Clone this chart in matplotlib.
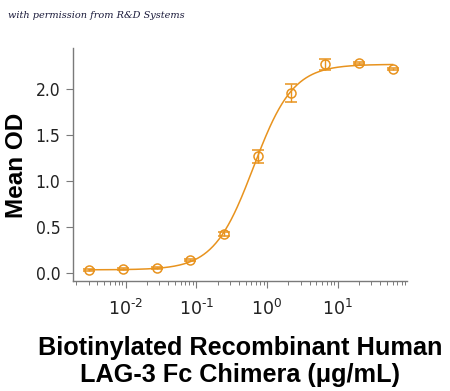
import numpy as np
import matplotlib
matplotlib.use("Agg")
import matplotlib.pyplot as plt
from matplotlib import font_manager
from matplotlib.ticker import LogLocator, FixedLocator, NullFormatter

# data (3-fold dilution series)
conc = [60, 20, 6.67, 2.22, 0.741, 0.247, 0.0823, 0.0274, 0.00914, 0.00305]
mean_od = [2.22, 2.28, 2.27, 1.96, 1.27, 0.42, 0.14, 0.05, 0.04, 0.03]
od_err = [0.01, 0.01, 0.06, 0.10, 0.07, 0.02, 0.01, 0.01, 0.01, 0.01]

# 4PL fit parameters (bottom, top, EC50, hill)
fit_bottom, fit_top, fit_ec50, fit_hill = 0.03, 2.27, 0.645, 1.55

y_ticks = [0.0, 0.5, 1.0, 1.5, 2.0]
x_major = [1e-2, 1e-1, 1e0, 1e1]

col = "#E8931E"

# look for an upright condensed face for the tick labels
cond = None
for f in font_manager.fontManager.ttflist:
    if f.style != "normal" or f.weight not in (400, "normal", "regular"):
        continue
    if "Narrow" in f.name or "Condensed" in f.name or f.stretch == "condensed":
        cond = f
        break
if cond:
    tname = cond.name
    tick_fp = font_manager.FontProperties(fname=cond.fname, size=12.5)
else:
    tname = "DejaVu Sans"
    tick_fp = font_manager.FontProperties(family="DejaVu Sans", size=11.5)

plt.rcParams["mathtext.fontset"] = "custom"
plt.rcParams["mathtext.rm"] = tname
plt.rcParams["mathtext.it"] = tname

fig = plt.figure(figsize=(4.5, 3.91), dpi=100)
ax = fig.add_axes([0.162, 0.281, 0.742, 0.596])

xs = np.logspace(np.log10(min(conc)), np.log10(max(conc)), 300)
ys = fit_bottom + (fit_top - fit_bottom) / (1 + (fit_ec50 / xs) ** fit_hill)
ax.plot(xs, ys, color=col, lw=1.1)
ax.errorbar(conc, mean_od, yerr=od_err, fmt="o", mfc="none", mec=col,
            ecolor=col, ms=6.5, mew=1.1, elinewidth=1.0, capsize=4, capthick=1.0)

ax.set_xscale("log")
ax.set_xlim(1.8e-3, 95)
ax.set_ylim(-0.093, 2.447)
ax.set_yticks(y_ticks)
ax.set_yticklabels([f"{v:.1f}" for v in y_ticks])
ax.xaxis.set_major_locator(FixedLocator(x_major))
# hyphen instead of the wide math minus, as in the reference
ax.set_xticklabels([r"$10^{\text{%s}}$" % str(int(np.log10(v))).replace("-", "-")
                    for v in x_major])
for lab in ax.get_yticklabels():
    lab.set_fontproperties(tick_fp)
for lab in ax.get_xticklabels():
    lab.set_fontsize(12.5)
ax.xaxis.set_minor_locator(LogLocator(base=10, subs=np.arange(2, 10)))
ax.xaxis.set_minor_formatter(NullFormatter())

for s in ["top", "right"]:
    ax.spines[s].set_visible(False)
for s in ["left", "bottom"]:
    ax.spines[s].set_color("#7a7a7a")
    ax.spines[s].set_linewidth(1.0)
ax.tick_params(axis="both", which="major", direction="out", length=5, width=0.8,
               color="#7a7a7a", labelcolor="#222222", pad=4)
ax.tick_params(axis="x", which="minor", direction="out", length=3, width=0.7, color="#7a7a7a")
ax.tick_params(axis="x", which="major", pad=8)

fig.text(0.037, 0.578, "Mean OD", rotation=90, ha="center", va="center",
         fontsize=17.5, fontweight="bold", family="Liberation Sans")
fig.text(0.533, 0.076, "Biotinylated Recombinant Human\nLAG-3 Fc Chimera (\u03bcg/mL)",
         ha="center", va="center", fontsize=18.2, fontweight="bold",
         family="Liberation Sans", linespacing=1.15)
fig.text(0.018, 0.96, "with permission from R&D Systems", fontsize=7,
         style="italic", family="DejaVu Serif", color="#1a1a3a", va="center")

fig.savefig("out.png", dpi=100)
